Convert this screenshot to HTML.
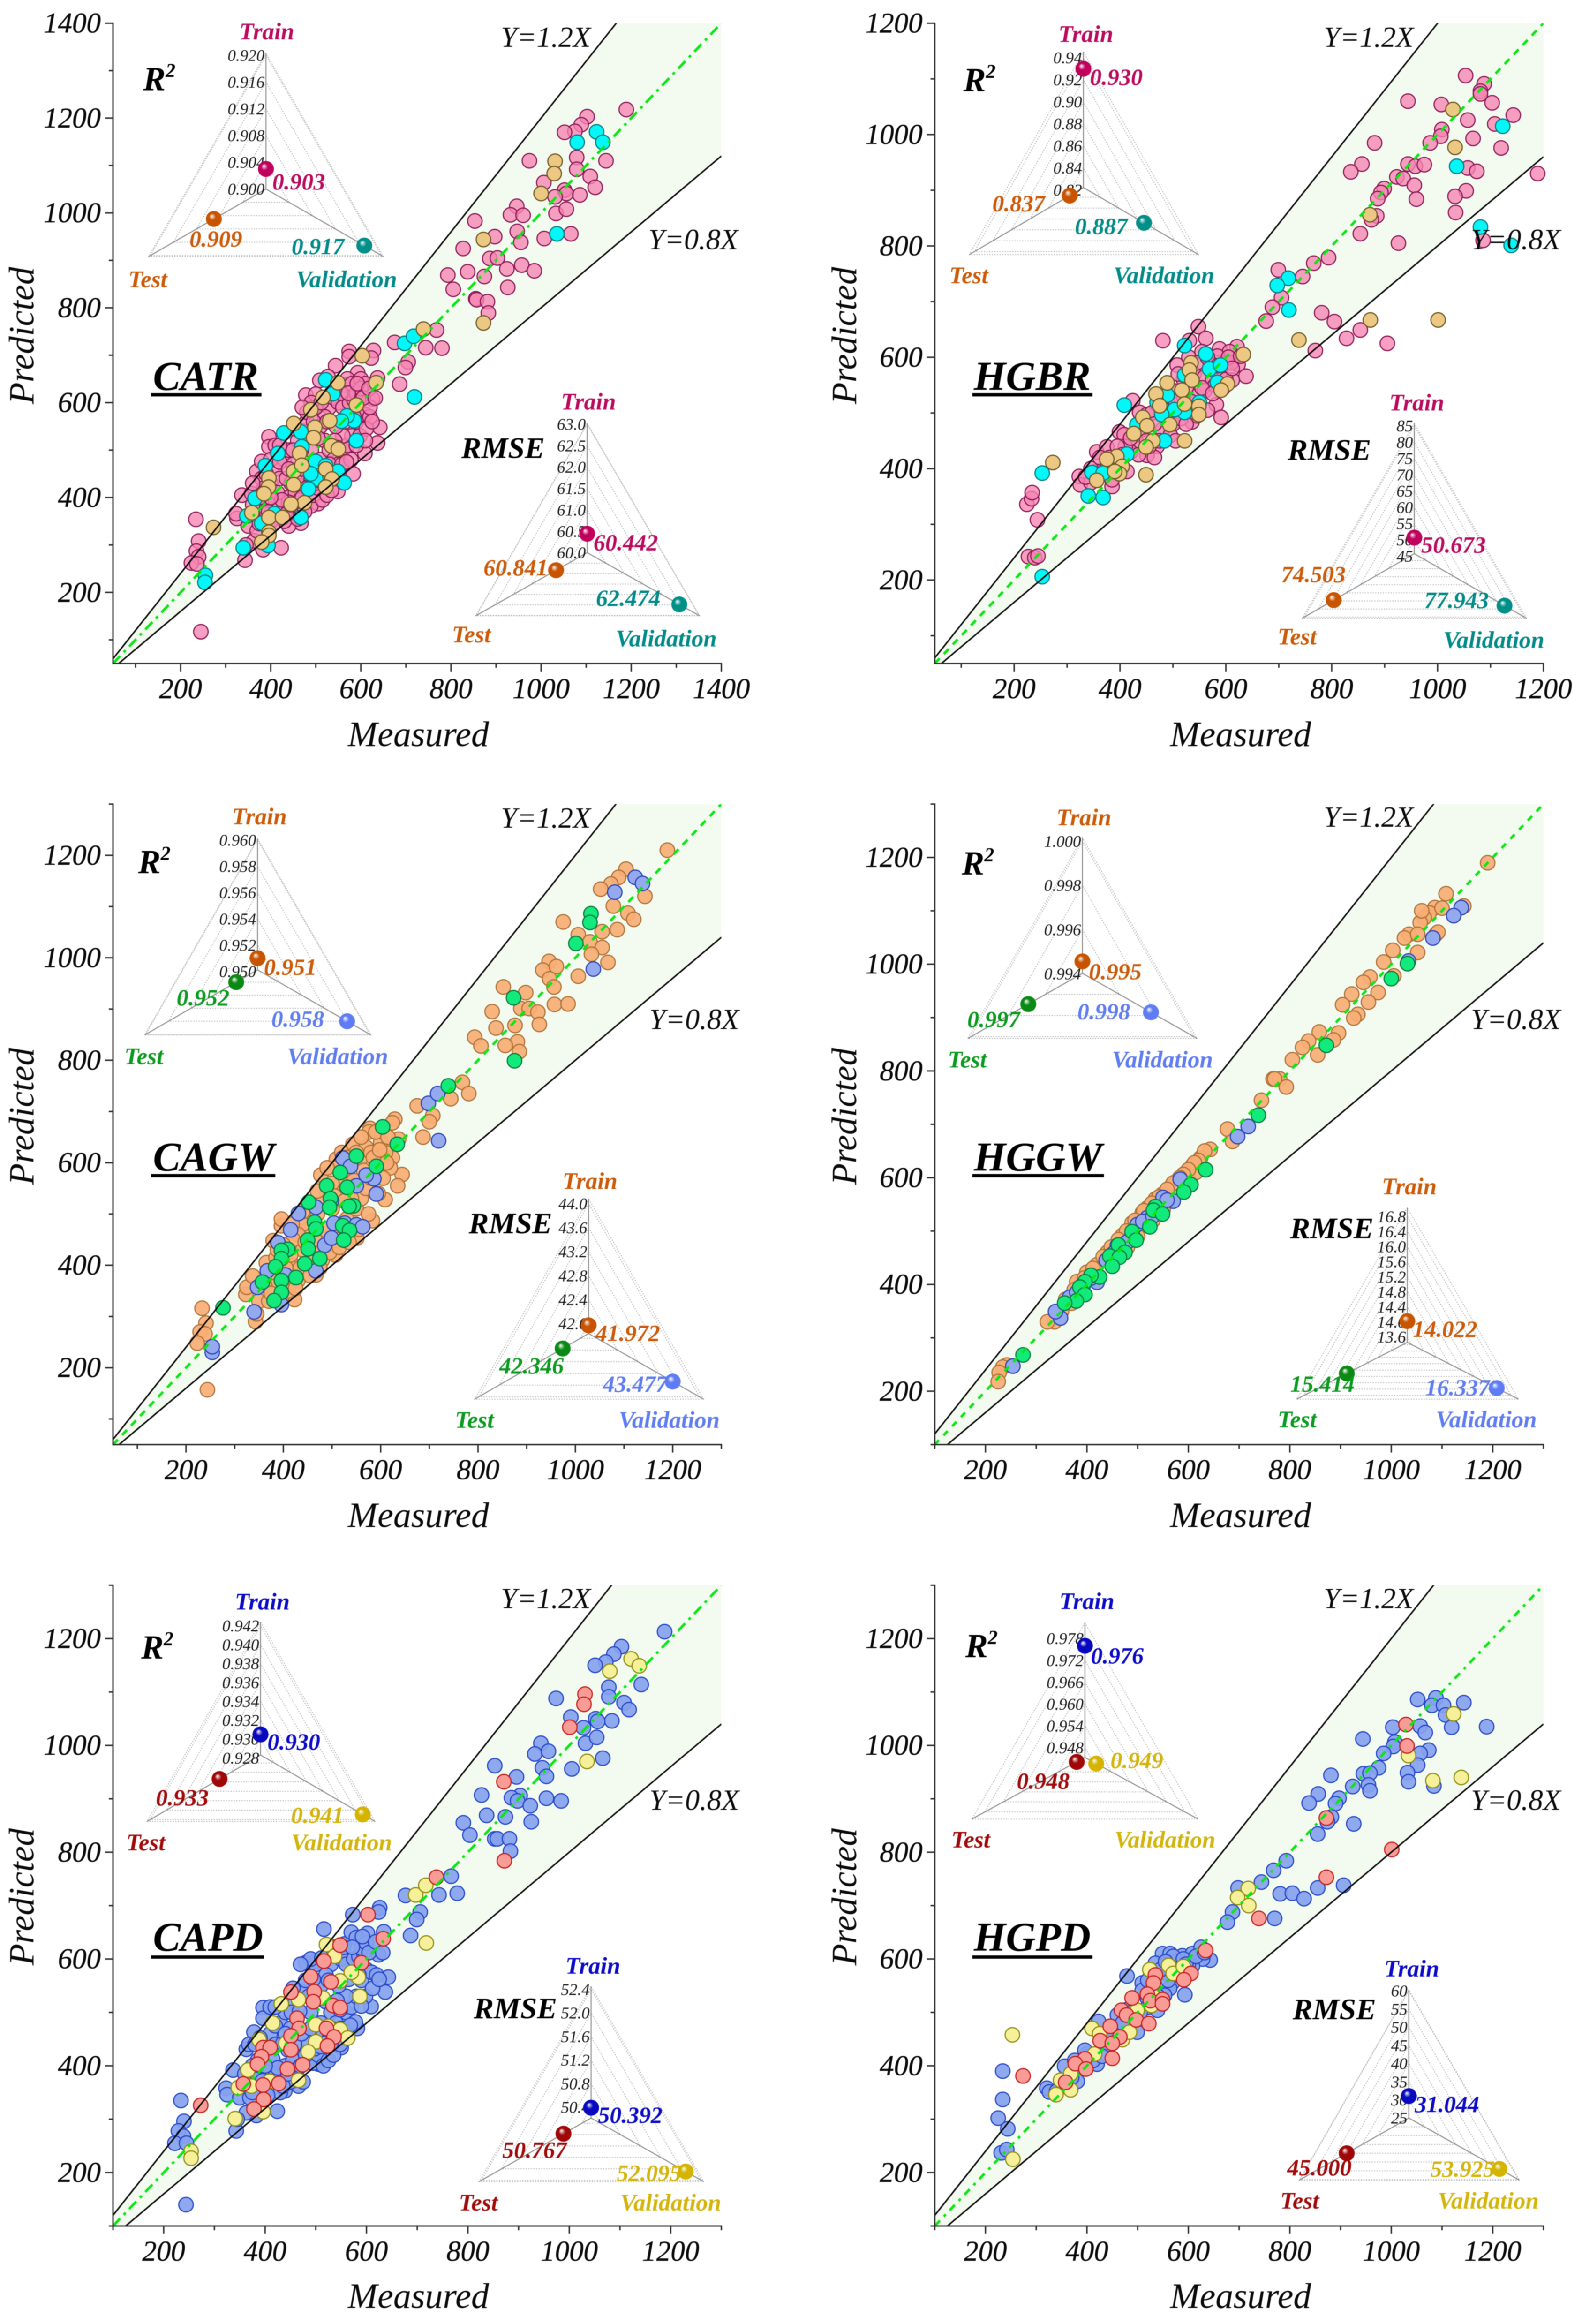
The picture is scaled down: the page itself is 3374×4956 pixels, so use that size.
<!DOCTYPE html>
<html lang="en">
<head>
<meta charset="utf-8">
<title>Measured vs predicted model comparison</title>
<style>
html,body{margin:0;padding:0;background:#fff;}
svg{display:block;font-family:"Liberation Serif",serif;filter:blur(0.9px);}
</style>
</head>
<body>
<svg id="chart" xmlns="http://www.w3.org/2000/svg" width="3374" height="4956" viewBox="0 0 3374 4956">
<defs id="chart-defs"></defs>
<rect x="0" y="0" width="3374" height="4956" fill="#ffffff"></rect>
</svg>
<script>
/* ---------- tick values ---------- */
const catrMajorTicks=[200,400,600,800,1000,1200,1400];
const catrMinorTicks=[100,300,500,700,900,1100,1300];
const hgbrMajorTicks=[200,400,600,800,1000,1200];
const hgbrMinorTicks=[100,300,500,700,900,1100];
const sharedMajorTicks=[200,400,600,800,1000,1200];
const sharedMinorTicks=[100,300,500,700,900,1100,1300];
const boundSlopes=[1.2,0.8];

/* ---------- CATR ---------- */
const catrTrain=[[1189,1218],[1102,1203],[1089,1186],[1075,1172],[1052,1170],[1079,1117],[974,1110],[1144,1110],[1079,1092],[1006,1064],[1109,1077],[1120,1054],[1052,1048],[1056,1041],[1086,1038],[1031,1034],[1033,999],[1056,1008],[946,1014],[932,996],[960,995],[853,983],[947,961],[955,938],[1066,956],[1007,946],[897,950],[827,925],[886,904],[903,905],[924,882],[957,890],[985,878],[837,876],[793,869],[805,839],[874,866],[926,843],[855,819],[857,817],[881,813],[883,789],[768,753],[675,727],[744,716],[780,715],[705,686],[699,674],[686,639],
[245,117],[234,354],[240,308],[235,287],[240,275],[224,262],[236,260],
[574,708],[574,697],[628,710],[623,694],[544,678],[527,655],[509,647],[478,616],[500,618],[566,637],[593,663],[637,652],[626,608],[642,548],[637,515],[609,493],[583,450],[549,413],[505,387],[489,382],[467,346],[440,340],[423,294],[383,290],[343,268],[363,309],[325,356],[323,366],[336,405],[358,408],[369,455],[380,476],[396,528],[396,507],
[350,340],[370,330],[380,375],[390,395],[400,350],[410,395],[420,380],[430,350],[440,400],[450,370],[460,355],[400,430],[410,460],[420,440],[430,480],[440,500],[445,430],[455,410],[465,395],[475,370],[485,440],[495,405],[505,420],[515,395],[525,405],[535,415],[450,470],[460,520],[470,540],[480,560],[490,500],[500,460],[510,480],[520,520],[530,500],[540,480],[550,470],[560,500],[570,510],[580,530],[590,560],[600,580],[610,575],[620,570],[560,530],[545,550],[530,590],[520,570],[510,550],[500,590],[490,600],[480,580],[470,590],[455,545],[540,610],[550,600],[560,590],[575,600],[585,605],[595,605],[570,650],[580,640],[600,650],[610,640],[590,620],[600,630],[620,590],[400,480],[410,510],[420,475],[380,440],[385,420],[360,430],[440,390],[465,425],
[345,300],[360,365],[375,345],[385,410],[395,370],[405,345],[415,410],[425,395],[435,365],[435,440],[445,385],[450,500],[458,440],[468,500],[470,460],[480,420],[485,530],[495,560],[498,430],[505,525],[512,600],[518,440],[525,560],[530,470],[535,620],[542,520],[548,440],[555,620],[558,470],[565,560],[572,620],[578,480],[585,570],[592,640],[598,530],[605,610],[612,545],[618,630],[625,560],[632,610],[470,400],[490,470],[510,435],[530,440],[548,505],[568,475],[590,510],[610,520],[440,460],[420,510],[400,400],[390,450],[375,400],[360,385]];
const catrValidation=[[1123,1171],[1080,1149],[1137,1149],[1035,956],[697,725],[717,740],[719,612],[522,648],[538,619],[429,536],[467,538],[416,493],[388,467],[590,520],[585,562],[569,572],[557,561],[469,507],[500,476],[522,467],[549,455],[500,439],[484,418],[563,431],[365,398],[347,361],[380,346],[408,366],[467,358],[339,294],[394,299],[255,236],[254,221],[489,450]];
const catrTest=[[1031,1109],[1029,1083],[1000,1041],[872,944],[872,768],[739,755],[603,699],[634,642],[549,642],[516,611],[590,595],[489,585],[451,556],[498,548],[531,562],[495,526],[535,509],[550,502],[464,493],[522,460],[451,455],[469,468],[536,439],[396,441],[395,422],[385,408],[451,427],[522,422],[475,389],[445,386],[358,368],[396,358],[426,358],[396,327],[396,320],[380,306],[273,337]];
const catrR2Ticks=[0.920,0.916,0.912,0.908,0.904,0.900];
const catrR2Domain=[0.9000,0.9203];
const catrR2Values=[0.903,0.909,0.917];
const catrRmseTicks=[63.0,62.5,62.0,61.5,61.0,60.5,60.0];
const catrRmseDomain=[60,63.02];
const catrRmseValues=[60.442,60.841,62.474];

/* ---------- HGBR ---------- */
const hgbrTrain=[[1053,1106],[1088,1091],[1081,1078],[1081,1073],[1103,1057],[944,1060],[1007,1054],[1143,1035],[1057,1026],[1108,1019],[1008,1009],[1006,997],[1067,993],[986,985],[881,985],[1120,976],[857,947],[836,933],[944,947],[958,943],[975,946],[1057,940],[1074,934],[923,924],[935,921],[956,909],[899,903],[893,896],[887,885],[960,884],[1054,899],[1033,889],[1034,860],[885,854],[875,847],[854,822],[926,805],[794,779],[766,769],[745,745],[699,757],[705,707],[688,690],[676,665],[781,680],[805,664],[828,634],[854,649],[905,625],[769,612],[1189,930],[1086,810],
[548,655],[531,630],[481,630],[562,634],[588,615],[621,619],[607,610],[584,602],[623,587],[638,566],[612,559],[582,515],[591,492],[424,522],[437,501],[451,497],[399,466],[408,461],[356,430],[375,439],[323,386],[325,371],[385,368],[413,395],[451,424],[536,484],[508,586],
[520,560],[540,570],[560,565],[575,560],[590,575],[600,590],[570,590],[555,610],[530,600],[510,570],[500,540],[490,520],[475,510],[460,500],[440,470],[430,450],[420,430],[400,410],[390,395],[370,400],[410,440],[450,450],[470,440],[480,470],[500,480],[520,510],[545,530],[560,540],[580,550],[600,560],[610,590],[520,530],[495,500],[465,420],[385,380],[345,375],[355,395],
[335,385],[345,400],[362,420],[380,420],[395,440],[405,425],[420,455],[435,425],[445,485],[455,440],[465,480],[475,450],[485,505],[495,460],[505,520],[515,490],[525,545],[535,520],[545,590],[555,545],[565,600],[575,535],[585,585],[595,545],[605,600],[612,580],[628,602],[565,505],[545,495],[525,480],[505,450],
[224,336],[233,346],[234,357],[244,308],[227,242],[239,240],[245,243]];
const hgbrValidation=[[1123,1015],[1036,943],[1081,834],[1139,801],[718,742],[697,729],[719,685],[522,621],[562,606],[569,579],[590,586],[584,555],[408,514],[522,568],[432,479],[550,519],[522,501],[503,506],[489,532],[470,519],[479,497],[484,450],[413,426],[347,393],[368,392],[340,351],[368,348],[253,392],[253,206]];
const hgbrTest=[[1029,1045],[1033,977],[872,856],[738,631],[873,667],[1001,667],[633,605],[534,590],[531,577],[536,559],[603,552],[591,541],[489,554],[517,541],[468,534],[475,513],[443,492],[451,477],[522,516],[549,512],[549,497],[494,479],[426,463],[462,450],[522,450],[449,439],[394,422],[375,417],[404,404],[399,391],[356,379],[449,389],[273,411],[390,395]];
const hgbrR2Ticks=[0.94,0.92,0.90,0.88,0.86,0.84,0.82];
const hgbrR2Domain=[0.8222,0.9454];
const hgbrR2Values=[0.930,0.837,0.887];
const hgbrRmseTicks=[85,80,75,70,65,60,55,50,45];
const hgbrRmseDomain=[45.76,85.76];
const hgbrRmseValues=[50.673,74.503,77.943];

/* ---------- CAGW ---------- */
const cagwTrain=[[1189,1210],[1104,1173],[1089,1157],[1073,1144],[1052,1134],[1143,1120],[1078,1101],[1108,1087],[1120,1075],[975,1070],[1086,1055],[1055,1051],[1006,1045],[1030,1031],[1055,1020],[1033,1007],[1067,991],[946,993],[933,976],[961,983],[947,959],[956,943],[1006,964],[852,943],[898,932],[957,909],[985,910],[888,901],[905,901],[829,895],[923,894],[837,863],[926,870],[876,868],[793,845],[806,828],[881,836],[856,829],[885,817],[768,757],[781,735],[744,725],[675,711],[707,692],[700,680],[687,650],
[629,685],[624,678],[578,667],[576,660],[543,636],[509,607],[477,576],[637,646],[624,610],[644,577],[635,555],[609,528],[583,487],[551,453],[507,420],[467,381],[423,333],[396,333],[343,290],[323,343],[325,357],[337,379],[365,405],[379,448],[396,477],[396,490],
[233,316],[241,287],[229,270],[239,266],[223,248],[244,157],
[350,330],[370,330],[380,370],[390,400],[400,370],[410,350],[420,400],[430,370],[440,430],[450,400],[460,420],[470,430],[480,410],[490,440],[500,460],[510,450],[520,480],[530,490],[540,470],[550,510],[560,530],[570,550],[580,570],[590,590],[600,600],[610,620],[600,640],[590,660],[570,630],[560,650],[540,600],[530,580],[520,560],[510,590],[500,560],[490,540],[480,520],[470,500],[460,480],[450,470],[440,480],[430,460],[420,450],[410,430],[400,440],[500,510],[540,530],[560,610],[620,590],[615,650],[580,620],[520,620],[490,590],[450,520],
[345,305],[362,360],[375,345],[385,415],[395,385],[405,395],[415,420],[425,355],[435,395],[445,445],[455,380],[465,450],[475,395],[485,470],[495,425],[505,535],[515,435],[525,525],[535,445],[545,565],[555,470],[565,585],[575,500],[585,610],[595,540],[605,570],[612,600],[598,625],[550,620],[530,610],[470,545],[440,505],[418,480],[388,430],[372,385]];
const cagwValidation=[[1123,1157],[1138,1145],[1081,1128],[1037,978],[698,716],[717,735],[719,643],[522,609],[538,593],[431,501],[467,513],[415,469],[389,444],[591,539],[586,569],[570,576],[550,555],[499,526],[504,482],[526,482],[550,479],[563,475],[485,439],[499,453],[467,389],[367,389],[347,357],[396,323],[404,381],[340,309],[254,230],[254,241]];
const cagwTest=[[1032,1086],[1030,1069],[1001,1028],[873,922],[875,799],[739,750],[604,670],[634,636],[550,613],[517,581],[591,593],[489,555],[531,552],[497,530],[452,523],[495,513],[544,516],[535,515],[464,484],[467,471],[522,477],[536,468],[524,449],[450,449],[451,432],[409,431],[396,429],[396,413],[384,397],[444,403],[475,413],[426,376],[357,367],[396,370],[396,347],[381,331],[276,317]];
const cagwR2Ticks=[0.960,0.958,0.956,0.954,0.952,0.950];
const cagwR2Domain=[0.95011,0.96011];
const cagwR2Values=[0.951,0.952,0.958];
const cagwRmseTicks=[44.0,43.6,43.2,42.8,42.4,42.0];
const cagwRmseDomain=[41.835,44.08];
const cagwRmseValues=[41.972,42.346,43.477];

/* ---------- HGGW ---------- */
const hggwTrain=[[1190,1190],[1108,1132],[1143,1109],[1086,1106],[1075,1096],[1065,1087],[1057,1078],[1088,1056],[1035,1056],[1026,1049],[1052,1056],[1052,1022],[1003,1026],[985,1004],[1005,978],[958,976],[945,966],[974,947],[922,944],[955,929],[904,924],[934,906],[926,899],[896,871],[886,858],[858,873],[837,856],[825,844],[855,830],[805,821],[767,785],[780,785],[793,770],[744,745],[677,691],[687,668],[643,653],[624,637],[608,623],[593,608],[578,594],[567,585],[549,569],[535,560],[519,543],[509,534],[489,515],[470,492],[440,460],[420,437],[400,423],[380,405],[336,330],[322,330],[254,247],[242,249],[234,245],[227,235],[225,218],
[550,540],[575,590],[600,600],[615,610],[580,575],[460,452],[470,465],[480,470],[500,490],[530,520],[420,418],[390,395],[370,365],[350,350],[770,785],[1100,1105],[1092,1060],[1060,1100],
[632,650],[620,632],[612,628],[600,615],[590,606],[583,600],[570,590],[558,578],[542,564],[528,552],[512,538],[495,520],[478,500],[462,484],[448,470],[432,452],[412,430],[395,412],[375,390],[358,372]];
const hggwValidation=[[1138,1106],[1123,1091],[1082,1049],[1034,1006],[718,696],[697,677],[584,597],[550,563],[570,556],[499,512],[489,493],[470,470],[420,404],[366,376],[348,337],[338,349],[254,247],[519,525],[460,473],[380,385],[510,518],[530,528],[558,558],[480,480],[452,458],[438,445],[408,412],[392,396]];
const hggwTest=[[1032,1001],[1000,973],[872,848],[738,717],[634,615],[605,587],[591,573],[535,546],[531,539],[549,532],[524,508],[489,499],[497,483],[462,474],[445,453],[475,460],[464,451],[450,434],[425,414],[408,417],[396,405],[386,395],[396,381],[379,369],[356,365],[274,268]];
const hggwR2Ticks=[1.000,0.998,0.996,0.994];
const hggwR2Domain=[0.99402,1.00016];
const hggwR2Values=[0.99456,0.99692,0.99769];
const hggwRmseTicks=[16.8,16.4,16.0,15.6,15.2,14.8,14.4,14.0,13.6];
const hggwRmseDomain=[13.456,17.036];
const hggwRmseValues=[14.022,15.414,16.337];

/* ---------- CAPD ---------- */
const capdTrain=[[1188,1213],[1103,1185],[1088,1171],[1072,1156],[1051,1150],[1142,1114],[1078,1109],[1078,1091],[1108,1080],[1118,1067],[974,1088],[1003,1053],[1052,1050],[1084,1046],[1056,1045],[1028,1033],[1032,1004],[1054,1015],[944,1004],[932,984],[959,989],[1066,976],[1005,956],[947,958],[955,942],[853,962],[896,941],[827,907],[903,906],[886,902],[898,896],[955,901],[984,896],[923,887],[837,869],[874,866],[925,857],[791,855],[804,832],[853,825],[858,825],[882,825],[884,802],[767,755],[743,720],[779,723],[677,719],[706,688],[699,674],[687,644],
[573,683],[626,696],[624,688],[516,656],[480,593],[500,596],[556,628],[602,648],[634,651],[624,608],[643,566],[637,538],[609,511],[582,470],[550,434],[506,403],[466,362],[439,353],[424,315],[383,307],[343,278],[363,312],[323,358],[325,346],[337,392],[378,463],[363,431],[396,509],[396,489],[368,440],
[234,335],[240,296],[229,278],[239,268],[222,255],[244,140],[245,255],
[350,340],[370,340],[380,380],[390,400],[400,350],[410,390],[420,380],[430,350],[440,400],[450,370],[400,430],[410,460],[420,440],[430,480],[440,500],[445,430],[455,410],[465,395],[475,370],[485,440],[495,405],[505,420],[515,400],[525,410],[535,420],[450,470],[460,520],[470,540],[480,560],[490,500],[500,460],[510,480],[520,520],[530,500],[540,480],[550,470],[560,500],[570,510],[580,530],[590,560],[600,580],[610,575],[620,570],[560,530],[545,550],[530,590],[520,570],[510,550],[500,590],[490,600],[470,590],[540,610],[550,600],[560,590],[575,600],[585,605],[595,610],[570,650],[580,640],[590,620],[600,630],[455,545],[380,440],[420,475],[410,510],
[345,300],[358,365],[375,350],[385,410],[395,372],[405,345],[415,412],[425,396],[435,362],[435,442],[445,385],[452,500],[458,440],[468,502],[472,460],[480,420],[486,530],[495,562],[498,432],[505,526],[512,602],[518,442],[525,560],[530,470],[535,622],[542,522],[548,440],[555,622],[558,470],[565,562],[572,622],[578,482],[585,570],[592,642],[598,530],[605,612],[612,545],[618,632],[625,562],[632,612],[470,400],[490,470],[510,436],[530,442],[548,505],[568,476],[590,512],[440,460],[420,510],[400,400],[390,452],[375,400],[360,385]];
const capdValidation=[[1122,1162],[1138,1149],[1080,1139],[1035,970],[697,720],[717,738],[718,630],[521,627],[537,605],[432,516],[466,524],[415,480],[388,449],[587,530],[584,566],[570,575],[548,559],[514,527],[500,477],[524,474],[548,468],[563,452],[500,445],[485,426],[441,442],[366,392],[347,359],[373,362],[409,371],[466,373],[341,301],[396,314],[254,240],[254,227]];
const capdTest=[[1031,1096],[1029,1077],[1001,1034],[871,932],[872,784],[738,753],[603,683],[633,638],[548,626],[516,596],[590,593],[490,567],[451,538],[497,539],[530,557],[495,520],[534,513],[548,509],[463,489],[467,470],[521,470],[451,456],[536,454],[523,437],[396,434],[410,434],[451,430],[393,417],[385,403],[474,402],[444,394],[427,367],[357,366],[396,364],[397,337],[378,319],[273,326]];
const capdR2Ticks=[0.942,0.940,0.938,0.936,0.934,0.932,0.930,0.928];
const capdR2Domain=[0.92831,0.94241];
const capdR2Values=[0.93049,0.9334,0.9409];
const capdRmseTicks=[52.4,52.0,51.6,51.2,50.8,50.4];
const capdRmseDomain=[50.217,52.45];
const capdRmseValues=[50.392,50.767,52.095];

/* ---------- HGPD ---------- */
const hgpdTrain=[[1052,1086],[1088,1089],[1080,1075],[1103,1075],[1143,1080],[1107,1057],[1119,1034],[1188,1035],[1003,1034],[1057,1036],[1067,1024],[944,1012],[1007,1006],[1004,998],[1074,991],[1057,985],[985,985],[1052,963],[975,958],[881,944],[1032,949],[945,947],[958,948],[1034,932],[924,923],[955,926],[1084,924],[958,915],[856,909],[897,901],[890,891],[838,892],[882,866],[874,857],[926,853],[855,834],[793,784],[768,766],[698,733],[744,744],[781,722],[805,723],[828,713],[855,733],[906,738],[770,676],[687,688],[677,669],
[549,610],[564,610],[588,606],[608,610],[625,622],[643,598],[628,600],[593,533],[479,568],[509,555],[535,592],[568,555],[583,582],[608,587],[563,545],[553,532],[509,541],[539,504],[499,463],[460,495],[423,483],[479,505],[400,422],[405,417],[420,403],[356,399],[376,410],[381,371],[321,358],[326,351],[396,429],[450,449],[459,472],[519,527],[558,573],[578,596],
[234,390],[234,337],[225,302],[244,282],[231,237],[242,243],
[500,490],[520,510],[540,530],[560,560],[580,570],[440,440],[470,470],[600,590],[570,605],[590,600],[520,560],
[340,352],[360,368],[370,378],[390,398],[412,410],[430,418],[440,462],[470,480],[488,500],[505,500],[530,545],[545,580],[555,595],[575,575],[595,590],[615,605],[632,612]];
const hgpdValidation=[[1123,1059],[1034,981],[1082,934],[1138,940],[718,732],[697,715],[719,700],[524,580],[561,588],[570,573],[590,586],[535,568],[410,470],[253,458],[529,542],[499,504],[527,513],[425,460],[470,449],[484,463],[415,422],[348,373],[368,385],[339,346],[368,355],[254,225]];
const hgpdTest=[[1029,1039],[1031,999],[872,864],[1001,805],[872,753],[739,676],[634,616],[605,573],[591,561],[535,570],[531,555],[489,527],[519,534],[525,522],[549,524],[549,516],[468,504],[478,495],[497,486],[522,479],[446,474],[426,447],[465,454],[450,442],[450,414],[396,413],[377,404],[398,394],[358,369],[274,381]];
const hgpdR2Ticks=[0.978,0.972,0.966,0.960,0.954,0.948];
const hgpdR2Domain=[0.94531,0.98230];
const hgpdR2Values=[0.976,0.948,0.949];
const hgpdRmseTicks=[60,55,50,45,40,35,30,25];
const hgpdRmseDomain=[25,60.3];
const hgpdRmseValues=[31.044,45.000,53.925];

/* ---------- styling and layout ---------- */
const NS='http://www.w3.org/2000/svg';
const svg=document.getElementById('chart');
const defs=document.getElementById('chart-defs');
const COLS=[{ox:0,k:1650/1568,left:241,right:1538.5},{ox:1700,k:1674/1568,left:1993.6,right:3291.8}];
const ROWS=[{oy:0,k:1650/1568,top:49.5,bottom:1415},{oy:1660,k:1650/1568,top:1714.7,bottom:3080.6},{oy:3320,k:1636/1568,top:3380.5,bottom:4747}];
const PINK={train:{fill:'#f684b2',opacity:0.78,stroke:'#8c1a55',ball:'#c0005c',text:'#bb0a5e'},validation:{fill:'#02f8f8',opacity:1,stroke:'#0b7a80',ball:'#008f88',text:'#008a88'},test:{fill:'#edc882',opacity:1,stroke:'#6e5a26',ball:'#c85400',text:'#cc5a08'}};
const ORANGE={train:{fill:'#f8ae74',opacity:0.92,stroke:'#ae7238',ball:'#c85400',text:'#cc5a08'},validation:{fill:'#95a9ee',opacity:1,stroke:'#2c46b8',ball:'#5f7cf5',text:'#5f7cf0'},test:{fill:'#12ea7c',opacity:1,stroke:'#0c7a3e',ball:'#0a8a14',text:'#0a9a1e'}};
const BLUE={train:{fill:'#86a2ee',opacity:0.92,stroke:'#2646c8',ball:'#0808c0',text:'#0a0ac8'},validation:{fill:'#f6f09a',opacity:1,stroke:'#8e8c10',ball:'#d4b400',text:'#d4b40a'},test:{fill:'#f99c96',opacity:1,stroke:'#c41e1e',ball:'#a00808',text:'#a00a0a'}};

function make(tag,parent,attrs){
  const el=document.createElementNS(NS,tag);
  for(const key in attrs){el.setAttribute(key,attrs[key]);}
  parent.appendChild(el);
  return el;
}
function label(parent,str,x,y,size,weight,style,fill,anchor){
  const el=make('text',parent,{x:x,y:y,'font-size':size,'font-weight':weight,'font-style':style,fill:fill,'text-anchor':anchor||'start'});
  el.textContent=str;
  return el;
}
function ballGradient(color){
  const id='ball-'+color.slice(1);
  if(document.getElementById(id)){return id;}
  const grad=make('radialGradient',defs,{id:id,cx:'0.5',cy:'0.5',r:'0.55',fx:'0.36',fy:'0.3'});
  
  
  make('stop',grad,{offset:'0','stop-color':'#ffffff','stop-opacity':'0.95'});
  make('stop',grad,{offset:'0.38','stop-color':color});
  make('stop',grad,{offset:'1','stop-color':color});
  return id;
}

const panels=[
 {name:'CATR',col:0,row:0,domain:[50,1400],major:catrMajorTicks,minor:catrMinorTicks,train:catrTrain,validation:catrValidation,test:catrTest,palette:PINK,dash:'22 11 6 11',
  underline:[306,530,800],titlePos:[310,790],upper:[1015,95],lower:[1314,505],xTitle:[848,1512],yTitle:[68,680],
  r2:{ticks:catrR2Ticks,domain:catrR2Domain,values:catrR2Values,digits:3,geo:[539,108,383,520,301,777],train:[485,80],test:[260,582],val:[600,582],head:[290,183],valuePos:[[552,384],[384,500],[591,515]]},
  rmse:{ticks:catrRmseTicks,domain:catrRmseDomain,values:catrRmseValues,digits:1,geo:[1190,858,1120,1248,964,1418],train:[1137,830],test:[916,1302],val:[1248,1310],head:[935,928],valuePos:[[1203,1115],[980,1166],[1208,1228]]}},
 {name:'HGBR',col:1,row:0,domain:[50,1200],major:hgbrMajorTicks,minor:hgbrMinorTicks,train:hgbrTrain,validation:hgbrValidation,test:hgbrTest,palette:PINK,dash:'15 13',
  underline:[350,590,800],titlePos:[353,790],upper:[1052,95],lower:[1346,505],xTitle:[886,1512],yTitle:[118,680],
  r2:{ticks:hgbrR2Ticks,domain:hgbrR2Domain,values:hgbrR2Values,digits:2,geo:[572,105,380,516,344,802],train:[522,85],test:[304,574],val:[632,574],head:[332,185],valuePos:[[585,172],[390,428],[555,474]]},
  rmse:{ticks:hgbrRmseTicks,domain:hgbrRmseDomain,values:hgbrRmseValues,digits:0,geo:[1233,858,1122,1253,1009,1457],train:[1183,832],test:[960,1306],val:[1291,1313],head:[980,932],valuePos:[[1247,1120],[967,1180],[1253,1232]]}},
 {name:'CAGW',col:0,row:1,domain:[50,1300],major:sharedMajorTicks,minor:sharedMinorTicks,train:cagwTrain,validation:cagwValidation,test:cagwTest,palette:ORANGE,dash:'15 13',
  underline:[306,558,805],titlePos:[310,795],upper:[1015,100],lower:[1316,508],xTitle:[848,1517],yTitle:[68,685],
  r2:{ticks:cagwR2Ticks,domain:cagwR2Domain,values:cagwR2Values,digits:3,geo:[522,122,388,520,293,752],train:[470,93],test:[252,579],val:[582,579],head:[280,192],valuePos:[[535,398],[358,460],[550,503]]},
  rmse:{ticks:cagwRmseTicks,domain:cagwRmseDomain,values:cagwRmseValues,digits:1,geo:[1193,852,1125,1258,962,1426],train:[1140,832],test:[922,1316],val:[1254,1316],head:[950,922],valuePos:[[1207,1140],[1012,1206],[1222,1243]]}},
 {name:'HGGW',col:1,row:1,domain:[100,1300],major:sharedMajorTicks,minor:sharedMinorTicks,train:hggwTrain,validation:hggwValidation,test:hggwTest,palette:ORANGE,dash:'13 14',
  underline:[350,613,805],titlePos:[353,795],upper:[1052,98],lower:[1346,508],xTitle:[886,1517],yTitle:[118,685],
  r2:{ticks:hggwR2Ticks,domain:hggwR2Domain,values:hggwR2Values,digits:3,geo:[570,120,395,527,341,799],train:[518,95],test:[301,586],val:[629,586],head:[329,195],valuePos:[[583,407],[340,504],[560,488]]},
  rmse:{ticks:hggwRmseTicks,domain:hggwRmseDomain,values:hggwRmseValues,digits:1,geo:[1219,870,1143,1258,998,1441],train:[1168,843],test:[960,1315],val:[1276,1315],head:[985,932],valuePos:[[1230,1132],[985,1243],[1255,1250]]}},
 {name:'CAPD',col:0,row:2,domain:[100,1300],major:sharedMajorTicks,minor:sharedMinorTicks,train:capdTrain,validation:capdValidation,test:capdTest,palette:BLUE,dash:'22 11 6 11',
  underline:[306,535,818],titlePos:[310,805],upper:[1015,105],lower:[1316,517],xTitle:[848,1535],yTitle:[68,695],
  r2:{ticks:capdR2Ticks,domain:capdR2Domain,values:capdR2Values,digits:3,geo:[528,133,405,541,298,760],train:[476,108],test:[256,600],val:[590,600],head:[286,208],valuePos:[[542,394],[316,508],[590,544]]},
  rmse:{ticks:capdRmseTicks,domain:capdRmseDomain,values:capdRmseValues,digits:1,geo:[1198,878,1147,1277,971,1426],train:[1146,852],test:[930,1336],val:[1257,1336],head:[960,943],valuePos:[[1212,1157],[1018,1228],[1250,1275]]}},
 {name:'HGPD',col:1,row:2,domain:[100,1300],major:sharedMajorTicks,minor:sharedMinorTicks,train:hgpdTrain,validation:hgpdValidation,test:hgpdTest,palette:BLUE,dash:'16 12 6 12',
  underline:[350,590,818],titlePos:[353,805],upper:[1052,105],lower:[1346,517],xTitle:[886,1535],yTitle:[118,695],
  r2:{ticks:hgpdR2Ticks,domain:hgpdR2Domain,values:hgpdR2Values,digits:3,geo:[575,135,410,536,349,801],train:[524,107],test:[308,594],val:[634,594],head:[336,205],valuePos:[[587,218],[439,474],[626,432]]},
  rmse:{ticks:hgpdRmseTicks,domain:hgpdRmseDomain,values:hgpdRmseValues,digits:0,geo:[1222,885,1147,1274,1003,1443],train:[1173,858],test:[965,1332],val:[1280,1332],head:[990,945],valuePos:[[1234,1135],[979,1264],[1265,1267]]}}
];

function drawRadar(group,spec,palette,px,py,kind){
  const ax=px(spec.geo[0]),ay=py(spec.geo[1]),cy=py(spec.geo[2]),by=py(spec.geo[3]),lx=px(spec.geo[4]),rx=px(spec.geo[5]);
  const frac=v=>(v-spec.domain[0])/(spec.domain[1]-spec.domain[0]);
  const axisPoint=(axisIndex,f)=>{
    if(axisIndex===0){return [ax,cy+(ay-cy)*f];}
    if(axisIndex===1){return [ax+(lx-ax)*f,cy+(by-cy)*f];}
    return [ax+(rx-ax)*f,cy+(by-cy)*f];
  };
  const ringFractions=spec.ticks.map(frac).concat([1]);
  ringFractions.forEach(f=>{
    if(f<=0){return;}
    const a=axisPoint(0,f),b=axisPoint(1,f),c=axisPoint(2,f);
    const ring=make('polygon',group,{points:a+' '+b+' '+c,fill:'none',stroke:'#b0b0b0','stroke-width':1.8,'stroke-dasharray':'2.5 3'});
    
    
  });
  [0,1,2].forEach(i=>{
    const end=axisPoint(i,1);
    const spoke=make('line',group,{x1:ax,y1:cy,x2:end[0],y2:end[1],stroke:'#8e8e8e','stroke-width':2.2});
    
    
  });
  spec.ticks.forEach(t=>{
    const p=axisPoint(0,frac(t));
    const tick=label(group,t.toFixed(spec.digits),ax-3,p[1]+12,35,'normal','italic','#151515','end');
    
    
  });
  const order=['train','test','validation'];
  order.forEach((seriesName,i)=>{
    const p=axisPoint(i,frac(spec.values[i]));
    const ball=make('circle',group,{cx:p[0],cy:p[1],r:17,fill:'url(#'+ballGradient(palette[seriesName].ball)+')'});
    
    
  });
  order.forEach((seriesName,i)=>{
    const pos=spec.valuePos[i];
    const val=label(group,spec.values[i].toFixed(3),px(pos[0]),py(pos[1]),50,'bold','italic',palette[seriesName].text);
    
    
  });
  const trainLabel=label(group,'Train',px(spec.train[0]),py(spec.train[1]),51,'bold','italic',palette.train.text);
  
  
  const testLabel=label(group,'Test',px(spec.test[0]),py(spec.test[1]),51,'bold','italic',palette.test.text);
  
  
  const valLabel=label(group,'Validation',px(spec.val[0]),py(spec.val[1]),51,'bold','italic',palette.validation.text);
  
  
  if(kind==='r2'){
    const head=label(group,'R',px(spec.head[0]),py(spec.head[1]),72,'bold','italic','#000');
    const sup=make('tspan',head,{dy:-28,'font-size':42});
    sup.textContent='2';
    
    
  }else{
    const head=label(group,'RMSE',px(spec.head[0]),py(spec.head[1]),64,'bold','italic','#000');
    
    
  }
}

panels.forEach((panel,index)=>{
  const col=COLS[panel.col],row=ROWS[panel.row];
  const px=z=>col.ox+z*col.k;
  const py=z=>row.oy+z*row.k;
  const xScale=v=>col.left+(v-panel.domain[0])/(panel.domain[1]-panel.domain[0])*(col.right-col.left);
  const yScale=v=>row.bottom-(v-panel.domain[0])/(panel.domain[1]-panel.domain[0])*(row.bottom-row.top);
  const g=make('g',svg,{});
  
  

  const clipId='plot-clip-'+index;
  const clip=make('clipPath',defs,{id:clipId});
  
  
  make('rect',clip,{x:col.left,y:row.top,width:col.right-col.left,height:row.bottom-row.top});

  const lo=panel.domain[0],hi=panel.domain[1];
  const bandPoints=[[lo,lo*boundSlopes[1]],[hi,hi*boundSlopes[1]],[hi,hi*boundSlopes[0]],[lo,lo*boundSlopes[0]]].map(p=>xScale(p[0])+','+yScale(p[1])).join(' ');
  const band=make('polygon',g,{points:bandPoints,fill:'#f3fbf0','clip-path':'url(#'+clipId+')'});
  
  

  [['train',panel.train],['validation',panel.validation],['test',panel.test]].forEach(entry=>{
    const seriesName=entry[0];
    const style=panel.palette[seriesName];
    const seriesGroup=make('g',g,{});
    
    
    entry[1].forEach(pt=>{
      const dot=make('circle',seriesGroup,{cx:xScale(pt[0]),cy:yScale(pt[1]),r:15.5,fill:style.fill,'fill-opacity':style.opacity,stroke:style.stroke,'stroke-width':2.5});
      
      
    });
  });

  boundSlopes.forEach(slope=>{
    const bound=make('line',g,{x1:xScale(lo),y1:yScale(lo*slope),x2:xScale(hi),y2:yScale(hi*slope),stroke:'#0a0a0a','stroke-width':3.2,'clip-path':'url(#'+clipId+')'});
    
    
  });

  const identity=make('line',g,{x1:xScale(lo),y1:yScale(lo),x2:xScale(hi),y2:yScale(hi),stroke:'#0ce614','stroke-width':5.5,'stroke-dasharray':panel.dash,'clip-path':'url(#'+clipId+')'});
  
  

  const xAxis=make('line',g,{x1:col.left-1.5,y1:row.bottom,x2:col.right+1.5,y2:row.bottom,stroke:'#2a2a2a','stroke-width':3});
  
  
  const yAxis=make('line',g,{x1:col.left,y1:row.top-1.5,x2:col.left,y2:row.bottom+1.5,stroke:'#2a2a2a','stroke-width':3});
  
  

  panel.minor.forEach(v=>{
    if(v<lo||v>hi){return;}
    const xm=make('line',g,{x1:xScale(v),y1:row.bottom,x2:xScale(v),y2:row.bottom+9,stroke:'#2a2a2a','stroke-width':3});
    
    
    const ym=make('line',g,{x1:col.left,y1:yScale(v),x2:col.left-9,y2:yScale(v),stroke:'#2a2a2a','stroke-width':3});
    
    
  });
  panel.major.forEach(v=>{
    const xt=make('line',g,{x1:xScale(v),y1:row.bottom,x2:xScale(v),y2:row.bottom+17,stroke:'#2a2a2a','stroke-width':3});
    
    
    const yt=make('line',g,{x1:col.left,y1:yScale(v),x2:col.left-17,y2:yScale(v),stroke:'#2a2a2a','stroke-width':3});
    
    
    const xl=label(g,String(v),xScale(v),row.bottom+74,61,'normal','italic','#0a0a0a','middle');
    xl.setAttribute('stroke','#0a0a0a');
    xl.setAttribute('stroke-width','0.5');
    
    
    const yl=label(g,String(v),col.left-26,yScale(v)+20,61,'normal','italic','#0a0a0a','end');
    yl.setAttribute('stroke','#0a0a0a');
    yl.setAttribute('stroke-width','0.5');
    
    
  });

  const xTitle=label(g,'Measured',px(panel.xTitle[0]),py(panel.xTitle[1]),76,'normal','italic','#0a0a0a','middle');
  
  
  const yTitleX=px(panel.yTitle[0]),yTitleY=py(panel.yTitle[1]);
  const yTitle=label(g,'Predicted',yTitleX,yTitleY,76,'normal','italic','#0a0a0a','middle');
  yTitle.setAttribute('transform','rotate(-90 '+yTitleX+' '+yTitleY+')');
  
  

  const upperLabel=label(g,'Y=1.2X',px(panel.upper[0]),py(panel.upper[1]),62,'normal','italic','#0a0a0a');
  
  
  const lowerLabel=label(g,'Y=0.8X',px(panel.lower[0]),py(panel.lower[1]),62,'normal','italic','#0a0a0a');
  
  

  const title=label(g,panel.name,px(panel.titlePos[0]),py(panel.titlePos[1]),88,'bold','italic','#000');
  
  
  const rule=make('line',g,{x1:px(panel.underline[0]),y1:py(panel.underline[2]),x2:px(panel.underline[1]),y2:py(panel.underline[2]),stroke:'#000','stroke-width':7});
  
  

  const r2Group=make('g',g,{});
  
  
  drawRadar(r2Group,panel.r2,panel.palette,px,py,'r2');
  const rmseGroup=make('g',g,{});
  
  
  drawRadar(rmseGroup,panel.rmse,panel.palette,px,py,'rmse');
});
</script>
</body>
</html>
